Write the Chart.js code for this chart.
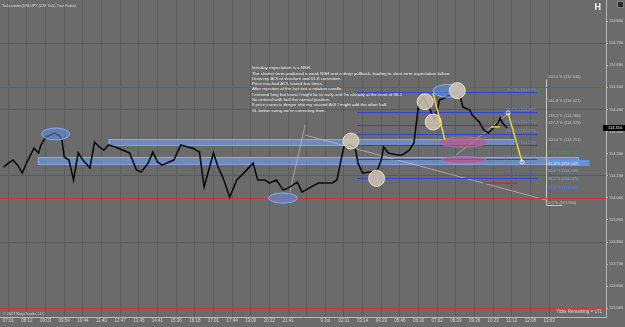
<!DOCTYPE html>
<html>
<head>
<meta charset="utf-8">
<style>
  html, body { margin: 0; padding: 0; background: #6b6b6b; }
  #chart { display: block; }
</style>
<script src="https://cdn.jsdelivr.net/npm/chart.js@4.4.0/dist/chart.umd.min.js"></script>
</head>
<body>
<canvas id="chart" width="625" height="327"></canvas>
<script>
// time labels, one every 8 bars
const timeLabels = ['07:01', '08:12', '09:03', '09:54', '10:44', '11:40', '12:47', '13:45', '14:41', '15:36',
  '16:18', '17:01', '17:44', '19:00', '20:22', '21:41', '', '9 Jul', '02:11', '03:14', '04:29', '05:46',
  '06:30', '07:02', '08:09', '09:26', '10:23', '11:12', '12:08', '13:03'];
const barsPerLabel = 8;

// USDJPY price
const barIdx = [-2, 0, 2, 4, 6, 8, 11, 13, 14, 16, 18, 20, 22, 23, 24, 26, 28, 30, 32, 35,
  37, 39, 41, 43, 46, 49, 52, 55, 57, 60, 62, 64, 66, 69, 71, 74, 77, 79, 82, 84,
  86, 88, 90, 92, 95, 98, 101, 105, 107, 110, 112, 115, 118, 120, 124, 126, 129, 133, 137, 139,
  141, 143, 144, 147, 149, 150, 152, 155, 158, 160, 161, 163, 167, 169, 172, 174, 176, 178, 181, 183,
  185, 188, 192, 194, 195, 198, 199, 202, 204, 206, 208, 210, 211, 212, 214];
const closes = [114.139, 114.157, 114.171, 114.148, 114.112, 114.162, 114.225, 114.203, 114.239, 114.275,
  114.284, 114.293, 114.280, 114.262, 114.185, 114.171, 114.081, 114.203, 114.171, 114.135,
  114.253, 114.230, 114.216, 114.239, 114.230, 114.216, 114.203, 114.126, 114.117, 114.157,
  114.207, 114.162, 114.148, 114.162, 114.171, 114.239, 114.230, 114.225, 114.207, 114.049,
  114.126, 114.203, 114.139, 114.094, 114.004, 114.081, 114.112, 114.157, 114.081, 114.081,
  114.067, 114.081, 114.035, 114.044, 114.071, 114.026, 114.044, 114.067, 114.067, 114.067,
  114.081, 114.185, 114.230, 114.239, 114.216, 114.157, 114.112, 114.117, 114.117, 114.171,
  114.230, 114.203, 114.194, 114.194, 114.216, 114.248, 114.420, 114.456, 114.397, 114.352,
  114.443, 114.456, 114.479, 114.452, 114.411, 114.397, 114.375, 114.343, 114.307, 114.293,
  114.316, 114.338, 114.361, 114.338, 114.316];

const priceTicks = [113.5, 113.6, 113.7, 113.8, 113.9, 114.0, 114.1, 114.2, 114.3, 114.4, 114.5, 114.6, 114.7, 114.8];
const darkGridPrices = [113.8, 114.1, 114.4, 114.7];
const roundLevels = [113.5, 114.0, 114.5];

// drawing objects on the chart (bar, price)
const zones = [[43, 216.5, 114.266, 114.239], [12.7, 244.4, 114.185, 114.153]];
const blueMarks = [[20.3, 114.289, 6, 0.027], [117.8, 113.999, 6.2, 0.023], [188.6, 114.484, 6.4, 0.029]];
const pinkMarks = [[195.1, 114.252, 10.3, 0.023], [195.3, 114.171, 9.7, 0.016]];
const touches = [[147, 114.257], [158, 114.088], [178.8, 114.435], [182.3, 114.343], [192.6, 114.485]];
const yellowLines = [[182.2, 114.474, 187.3, 114.262], [214.4, 114.384, 220.4, 114.162], [207.1, 114.321, 210.8, 114.321]];
const greyLines = [[127.3, 114.284, 230.7, 113.990], [120.8, 114.027, 127.3, 114.329], [192.1, 114.194, 214.8, 114.384]];
const redSegments = [[203.6, 218.2, 114.067]];

const leftFibFrom = 149.6, leftFibTo = 226.8;
const leftFibRatios = ['0.0', '38.2', '61.8', '78.6', '100.0', '127.2', '161.8'];
const leftFibPrices = [114.479, 114.387, 114.331, 114.290, 114.239, 114.174, 114.091];

const rightFibBar = 230.7;
const rightFibRatios = ['200.0', '161.8', '138.2', '127.2', '100.0', '78.6', '61.8', '50.0', '38.2', '23.6', '0.0'];
const rightFibPrices = [114.536, 114.427, 114.360, 114.329, 114.251, 114.190, 114.142, 114.109, 114.075, 114.033, 113.966];
const rightFibColors = ['#c4c4c4', '#c4c4c4', '#c4c4c4', '#c4c4c4', '#c4c4c4', '#3fa24a', 'box', '#8fa8e0', '#8fa8e0', '#4a86ff', '#c4c4c4'];

const noteBar = 104.5, notePrice = 114.587;
const noteLines = [
  'Intraday expectation is a NSH.',
  'The shorter term produced a weak NSH and a deep pullback, leading to short term expectation failure.',
  'Drew my AOI at structure and 61.8 correction.',
  'Price reached AOI, tested few times.',
  'After rejection of the last test a rotation candle.',
  "I entered long but knew I might be to early and I'm already at the level of 38.2",
  'So entered with half the normal position.',
  'If price corrects deeper into my second AOI I might add the other half.',
  "SL below swing we're correcting from."
];

const FONT = '"Liberation Sans", Arial, sans-serif';

const drawings = {
  id: 'drawings',
  beforeDraw(chart) {
    const ctx = chart.ctx;
    ctx.save();
    ctx.fillStyle = '#6b6b6b';
    ctx.fillRect(0, 0, chart.width, chart.height);
    ctx.restore();
  },
  beforeDatasetsDraw(chart) {
    const ctx = chart.ctx, a = chart.chartArea;
    const X = v => chart.scales.x.getPixelForValue(v);
    const Y = v => chart.scales.y.getPixelForValue(v);
    ctx.save();
    ctx.beginPath();
    ctx.rect(a.left, a.top, a.right - a.left, a.bottom - a.top);
    ctx.clip();

    zones.forEach(z => {
      const x1 = X(z[0]), x2 = X(z[1]), y1 = Y(z[2]), y2 = Y(z[3]);
      ctx.fillStyle = 'rgba(112,160,238,0.6)';
      ctx.fillRect(x1, y1, x2 - x1, y2 - y1);
      ctx.strokeStyle = 'rgba(140,180,250,0.8)';
      ctx.strokeRect(x1 + 0.5, y1 + 0.5, x2 - x1, y2 - y1);
    });

    ctx.strokeStyle = 'rgba(205,205,205,0.75)';
    ctx.lineWidth = 0.8;
    greyLines.forEach(l => {
      ctx.beginPath(); ctx.moveTo(X(l[0]), Y(l[1])); ctx.lineTo(X(l[2]), Y(l[3])); ctx.stroke();
    });

    ctx.strokeStyle = '#2f44d6';
    ctx.lineWidth = 1;
    leftFibPrices.forEach(p => {
      const y = Math.round(Y(p)) + 0.5;
      ctx.beginPath(); ctx.moveTo(X(leftFibFrom), y); ctx.lineTo(X(leftFibTo), y); ctx.stroke();
    });

    ctx.strokeStyle = '#d02828';
    ctx.lineWidth = 1.2;
    redSegments.forEach(s => {
      ctx.beginPath(); ctx.moveTo(X(s[0]), Y(s[2])); ctx.lineTo(X(s[1]), Y(s[2])); ctx.stroke();
    });

    // right fib frame
    ctx.strokeStyle = '#c8c8c8';
    ctx.lineWidth = 1;
    const fx = Math.round(X(rightFibBar)) + 0.5;
    ctx.beginPath();
    ctx.moveTo(fx, Y(rightFibPrices[0]));
    ctx.lineTo(fx, Y(rightFibPrices[rightFibPrices.length - 1]));
    ctx.stroke();
    const y0 = Math.round(Y(rightFibPrices[rightFibPrices.length - 1])) + 0.5;
    ctx.beginPath(); ctx.moveTo(fx, y0); ctx.lineTo(fx + 16, y0); ctx.stroke();

    // round number levels
    ctx.strokeStyle = '#dc3030';
    ctx.lineWidth = 1;
    roundLevels.forEach(p => {
      const y = Math.round(Y(p)) + 0.5;
      ctx.beginPath(); ctx.moveTo(a.left, y); ctx.lineTo(a.right, y); ctx.stroke();
    });
    ctx.restore();
  },
  afterDatasetsDraw(chart) {
    const ctx = chart.ctx, a = chart.chartArea;
    const X = v => chart.scales.x.getPixelForValue(v);
    const Y = v => chart.scales.y.getPixelForValue(v);
    const xPerBar = Math.abs(X(1) - X(0));
    const yPerPrice = Math.abs(Y(1) - Y(0));
    ctx.save();

    const ellipse = (m, fill, stroke) => {
      ctx.beginPath();
      ctx.ellipse(X(m[0]), Y(m[1]), m[2] * xPerBar, m[3] * yPerPrice, 0, 0, Math.PI * 2);
      ctx.fillStyle = fill; ctx.fill();
      ctx.strokeStyle = stroke; ctx.lineWidth = 1; ctx.stroke();
    };
    blueMarks.forEach(m => ellipse(m, 'rgba(95,145,235,0.55)', 'rgba(130,175,255,0.95)'));
    pinkMarks.forEach(m => ellipse(m, 'rgba(205,75,125,0.6)', 'rgba(150,130,230,0.7)'));

    touches.forEach(t => {
      ctx.beginPath();
      ctx.arc(X(t[0]), Y(t[1]), 8, 0, Math.PI * 2);
      ctx.fillStyle = 'rgba(214,200,178,0.82)'; ctx.fill();
      ctx.strokeStyle = 'rgba(240,232,215,0.9)'; ctx.lineWidth = 1; ctx.stroke();
    });

    ctx.strokeStyle = '#ece23c';
    ctx.lineWidth = 1.4;
    yellowLines.forEach(l => {
      ctx.beginPath(); ctx.moveTo(X(l[0]), Y(l[1])); ctx.lineTo(X(l[2]), Y(l[3])); ctx.stroke();
    });
    ctx.strokeStyle = '#f4f4f4';
    ctx.lineWidth = 0.8;
    [[yellowLines[1][0], yellowLines[1][1]], [yellowLines[1][2], yellowLines[1][3]]].forEach(p => {
      ctx.beginPath(); ctx.arc(X(p[0]), Y(p[1]), 2, 0, Math.PI * 2); ctx.stroke();
    });

    // left fib labels
    ctx.textAlign = 'right';
    ctx.textBaseline = 'bottom';
    leftFibPrices.forEach((p, i) => {
      const last = i === leftFibPrices.length - 1;
      ctx.fillStyle = last ? '#3c50f0' : '#6f88ff';
      ctx.font = (last ? 'bold ' : '') + '4px ' + FONT;
      ctx.fillText(leftFibRatios[i] + ' % (' + p.toFixed(3) + ')', X(leftFibTo) - 1, Y(p) - 0.5);
    });

    // right fib labels
    ctx.font = '4px ' + FONT;
    ctx.textAlign = 'left';
    rightFibPrices.forEach((p, i) => {
      const txt = rightFibRatios[i] + ' % (' + p.toFixed(3) + ')';
      const x = X(rightFibBar) + 2, y = Y(p) - 0.5;
      if (rightFibColors[i] === 'box') {
        const w = ctx.measureText(txt).width + 4;
        ctx.fillStyle = 'rgba(105,150,235,0.85)';
        ctx.fillRect(x - 1, y - 6, w + 8, 6);
        ctx.fillStyle = '#e8eeff';
      } else {
        ctx.fillStyle = rightFibColors[i];
      }
      ctx.fillText(txt, x, y);
    });

    // notes
    ctx.fillStyle = '#f2f2f2';
    ctx.font = '4.4px ' + FONT;
    ctx.textAlign = 'left';
    ctx.textBaseline = 'middle';
    noteLines.forEach((t, i) => ctx.fillText(t, X(noteBar), Y(notePrice) + i * 5.3));

    // header / footer
    ctx.fillStyle = '#dcdcdc';
    ctx.font = '3.8px ' + FONT;
    ctx.fillText('Tickcounter(USDJPY (233 Tick) True False)', 2, 6);
    ctx.fillText('\u00a9 2017 NinjaTrader, LLC', 3, 314);
    ctx.textAlign = 'right';
    ctx.font = '4.5px ' + FONT;
    ctx.fillText('Ticks Remaining = 171', a.right - 4, 312);

    // last price marker
    const last = closes[closes.length - 1];
    const py = Y(last);
    ctx.fillStyle = '#000';
    ctx.fillRect(a.right - 3, py - 3, chart.width - a.right + 3, 6);
    ctx.fillStyle = '#ffffff';
    ctx.textAlign = 'left';
    ctx.font = '4px ' + FONT;
    ctx.fillText(last.toFixed(3), a.right + 2, py);

    // window icons
    ctx.fillStyle = '#e6e6e6';
    ctx.fillRect(595, 3, 1.5, 7); ctx.fillRect(599, 3, 1.5, 7); ctx.fillRect(596, 6, 3, 1.2);
    ctx.fillStyle = '#2a2a2a';
    ctx.fillRect(617, 1, 7, 7);
    ctx.strokeStyle = '#9a9a9a'; ctx.lineWidth = 0.8;
    ctx.strokeRect(617.5, 1.5, 6, 6);
    ctx.restore();
  }
};

new Chart(document.getElementById('chart').getContext('2d'), {
  type: 'line',
  data: {
    datasets: [{
      label: 'USDJPY',
      data: barIdx.map((b, i) => ({ x: b, y: closes[i] })),
      borderColor: '#0b0b0b',
      borderWidth: 1.6,
      pointRadius: 0,
      tension: 0
    }]
  },
  plugins: [drawings],
  options: {
    responsive: false,
    animation: false,
    devicePixelRatio: 1,
    layout: { padding: 0 },
    plugins: { legend: { display: false }, tooltip: { enabled: false } },
    scales: {
      x: {
        type: 'linear',
        min: -3.56,
        max: 256.4,
        afterBuildTicks: s => { s.ticks = timeLabels.map((t, i) => ({ value: i * barsPerLabel })); },
        afterFit: s => { s.height = 10; s.paddingLeft = 0; s.paddingRight = 0; },
        ticks: {
          color: '#d6d6d6',
          font: { size: 4.5, family: FONT },
          padding: 1,
          maxRotation: 0,
          autoSkip: false,
          callback: (v, i) => timeLabels[i]
        },
        grid: { color: '#5c5c5c', drawTicks: false },
        border: { color: '#b8b8b8' }
      },
      y: {
        position: 'right',
        min: 113.461,
        max: 114.895,
        afterBuildTicks: s => { s.ticks = priceTicks.map(v => ({ value: v })); },
        afterFit: s => { s.width = 19; s.paddingTop = 0; s.paddingBottom = 0; },
        ticks: {
          color: '#d6d6d6',
          font: { size: 4, family: FONT },
          padding: 1,
          callback: v => v.toFixed(3)
        },
        grid: {
          color: c => darkGridPrices.some(p => Math.abs(p - c.tick.value) < 1e-6) ? '#5a5a5a' : 'rgba(0,0,0,0)',
          tickColor: '#b8b8b8',
          tickLength: 2
        },
        border: { color: '#b8b8b8' }
      }
    }
  }
});
</script>
</body>
</html>
